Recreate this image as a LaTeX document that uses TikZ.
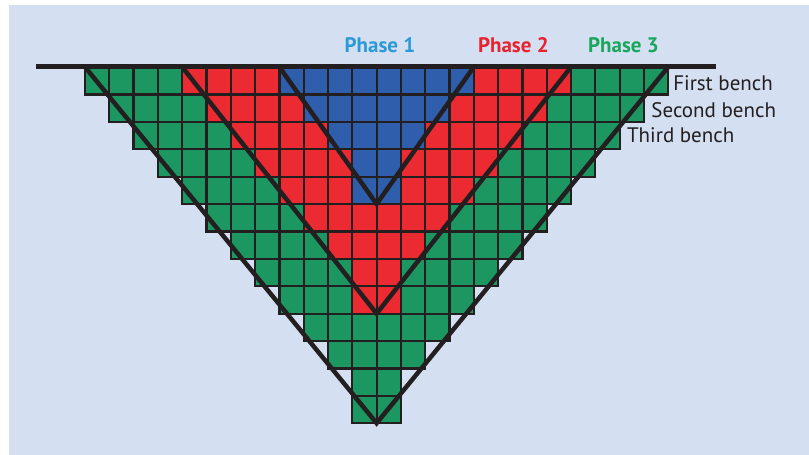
\documentclass[tikz,border=0pt]{standalone}
\usepackage{fontspec}
\setmainfont{PT Sans}
\usetikzlibrary{positioning}
\definecolor{panel}{HTML}{D4DFF1}
\definecolor{ink}{HTML}{231F20}
\definecolor{pitblue}{HTML}{2E5EAC}
\definecolor{pitred}{HTML}{EC2A31}
\definecolor{pitgreen}{HTML}{1C9761}
\definecolor{lblblue}{HTML}{2B9AD7}
\definecolor{lblred}{HTML}{E8232F}
\definecolor{lblgreen}{HTML}{19A75B}

\begin{document}
\begin{tikzpicture}[
  x=24.3pt, y=-27.4pt,
  cell/.style={draw=ink, line width=2.2pt},
  pitline/.style={draw=ink, line width=4.5pt, line join=miter},
  ground/.style={draw=ink, line width=5pt},
  phaselabel/.style={font=\fontsize{21}{24}\selectfont\bfseries, anchor=base, inner sep=0pt},
  bench/.style={font=\fontsize{21}{24}\selectfont, text=ink, anchor=base west, inner sep=0pt}
]
\useasboundingbox (-85pt,67pt) rectangle (724pt,-388pt);
\fill[panel] (-76pt,62pt) rectangle (724pt,-388pt);

% phase fills, widest first
\foreach \o/\n/\col in {0/12/pitgreen, 4/8/pitred, 8/4/pitblue}{
  \pgfmathtruncatemacro{\m}{\n-1}
  \foreach \r in {0,...,\m}
    \fill[\col] (\o+\r,\r) rectangle (24-\o-\r,\r+1);
  \fill[\col] (11,\n) rectangle (13,\n+1);
}

% block grid
\foreach \r in {0,...,11}{
  \pgfmathtruncatemacro{\last}{23-\r}
  \foreach \c in {\r,...,\last}
    \draw[cell] (\c,\r) rectangle ++(1,1);
}
\foreach \c in {11,12}
  \draw[cell] (\c,12) rectangle ++(1,1);

% pit outlines
\foreach \o/\n/\p in {0/12/3, 4/8/2, 8/4/1}{
  \coordinate (ph\p-l) at (\o,0);
  \coordinate (ph\p-r) at (24-\o,0);
  \coordinate (ph\p-b) at (12,\n+1);
}
\draw[pitline] (ph3-l) -- (ph3-b) -- (ph3-r);
\draw[pitline] (ph2-l) -- (ph2-b) -- (ph2-r);
\draw[pitline] (ph1-l) -- (ph1-b) -- (ph1-r);

\coordinate (surf-w) at (-2.02,-0.02);
\coordinate (surf-e) at (25.97,-0.02);
\draw[ground] (surf-w) -- (surf-e);

% labels
\node[phaselabel, text=lblblue] (ph1) at (12.14,-0.52) {Phase 1};
\node[phaselabel, text=lblred] (ph2) at (17.63,-0.52) {Phase 2};
\node[phaselabel, text=lblgreen] (ph3) at (22.16,-0.52) {Phase 3};

\node[bench] (bench1) at (24.2,0.84) {First bench};
\node[bench] (bench2) at (23.3,1.85) {Second bench};
\node[bench] (bench3) at (22.3,2.76) {Third bench};
\end{tikzpicture}
\end{document}
